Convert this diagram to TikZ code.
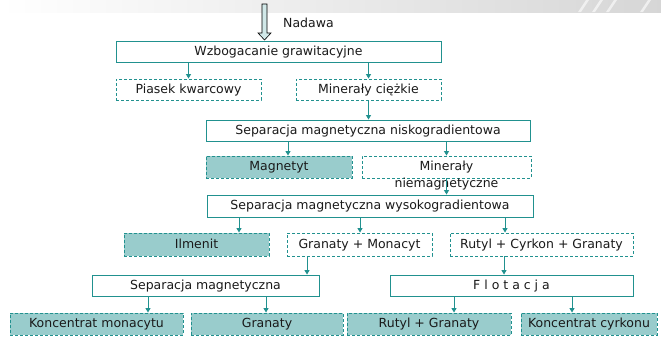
\documentclass[tikz,border=0pt]{standalone}
\usepackage{fontspec}
\setmainfont{DejaVu Sans}
\usetikzlibrary{arrows.meta}
\definecolor{teal1}{HTML}{21918F}
\definecolor{tealfill}{HTML}{99CCCC}
\definecolor{txt}{HTML}{1A1A1A}
\begin{document}
\begin{tikzpicture}[x=1pt,y=-1pt,
  every node/.style={font=\fontsize{12.5}{14}\selectfont, text=txt, inner sep=0pt},
  boxtext/.style={text height=9pt, text depth=2pt},
  solidbox/.style={boxtext, draw=teal1, line width=0.9pt, fill=white, minimum height=21pt},
  dbox/.style={boxtext, draw=teal1, line width=0.9pt, dash pattern=on 3pt off 2pt, fill=white, minimum height=22pt},
  fbox/.style={dbox, fill=tealfill},
  arr/.style={draw=teal1, line width=1pt, -{Triangle[width=5pt,length=4.5pt]}}
]
\useasboundingbox (0,0) rectangle (661,338);
\fill[white] (0,0) rectangle (661,338);
% top band
\shade[left color=white, right color=black!16] (0,0) rectangle (661,12);
\foreach \x in {578,592,606,640} \fill[white,opacity=0.6] (\x,12) -- (\x+8,0) -- (\x+11,0) -- (\x+3,12) -- cycle;

% boxes
\node[solidbox, minimum width=325pt] (wz) at (278.5,51.5) {Wzbogacanie grawitacyjne};
\node[dbox, minimum width=145pt, minimum height=21pt] (pk) at (188.5,89.5) {Piasek kwarcowy};
\node[dbox, minimum width=145pt, minimum height=21pt] (mc) at (368.5,89.5) {Minerały ciężkie};
\node[solidbox, minimum width=324pt] (snk) at (368,130.5) {Separacja magnetyczna niskogradientowa};
\node[fbox, minimum width=146pt] (mag) at (279,167) {Magnetyt};
\node[dbox, minimum width=169pt, label={[anchor=north, inner sep=0pt, yshift=1pt, font=\fontsize{12.5}{14}\selectfont, text=txt]south:niemagnetyczne}] (mn) at (446.5,167) {Minerały};
\node[solidbox, minimum width=326pt, minimum height=22pt] (swg) at (370,206) {Separacja magnetyczna wysokogradientowa};
\node[fbox, minimum width=145pt, minimum height=23pt] (il) at (196.5,244.5) {Ilmenit};
\node[dbox, minimum width=145pt, minimum height=23pt] (gm) at (359.5,244.5) {Granaty + Monacyt};
\node[dbox, minimum width=183pt, minimum height=23pt] (rcg) at (541.5,244.5) {Rutyl + Cyrkon + Granaty};
\node[solidbox, minimum width=227pt] (sm) at (205.5,285.5) {Separacja magnetyczna};
\node[solidbox, minimum width=243pt] (fl) at (511.5,285.5) {F l o t a c j a};
\node[fbox, minimum width=173pt] (km) at (96.5,324) {Koncentrat monacytu};
\node[fbox, minimum width=152pt] (gr) at (267,324) {Granaty};
\node[fbox, minimum width=164pt] (rg) at (429,324) {Rutyl + Granaty};
\node[fbox, minimum width=136pt] (kc) at (589,324) {Koncentrat cyrkonu};

% feed arrow
\draw[black, line width=0.6pt, fill=tealfill!45] (262,4) -- (267,4) -- (267,33) -- (271,33) -- (264.5,40) -- (258,33) -- (262,33) -- cycle;
\node[anchor=west] (nad) at (283,23) {Nadawa};

% connectors
\draw[arr] (wz.south -| pk.north) -- (pk.north);
\draw[arr] (wz.south -| mc.north) -- (mc.north);
\draw[arr] (mc.south) -- (mc.south |- snk.north);
\draw[arr] (snk.south -| 288,0) -- (mag.north -| 288,0);
\draw[arr] (snk.south -| mn.north) -- (mn.north);
\draw[arr] (mn.south) -- (mn.south |- swg.north);
\draw[arr] (swg.south -| 239,0) -- (il.north -| 239,0);
\draw[arr] (swg.south -| 360,0) -- (gm.north -| 360,0);
\draw[arr] (swg.south -| 505,0) -- (rcg.north -| 505,0);
\draw[arr] (gm.south -| 307,0) -- (sm.north -| 307,0);
\draw[arr] (rcg.south -| 504,0) -- (fl.north -| 504,0);
\draw[arr] (sm.south -| 148,0) -- (km.north -| 148,0);
\draw[arr] (sm.south -| 266,0) -- (gr.north -| 266,0);
\draw[arr] (fl.south -| 454,0) -- (rg.north -| 454,0);
\draw[arr] (fl.south -| 572,0) -- (kc.north -| 572,0);
\end{tikzpicture}
\end{document}
